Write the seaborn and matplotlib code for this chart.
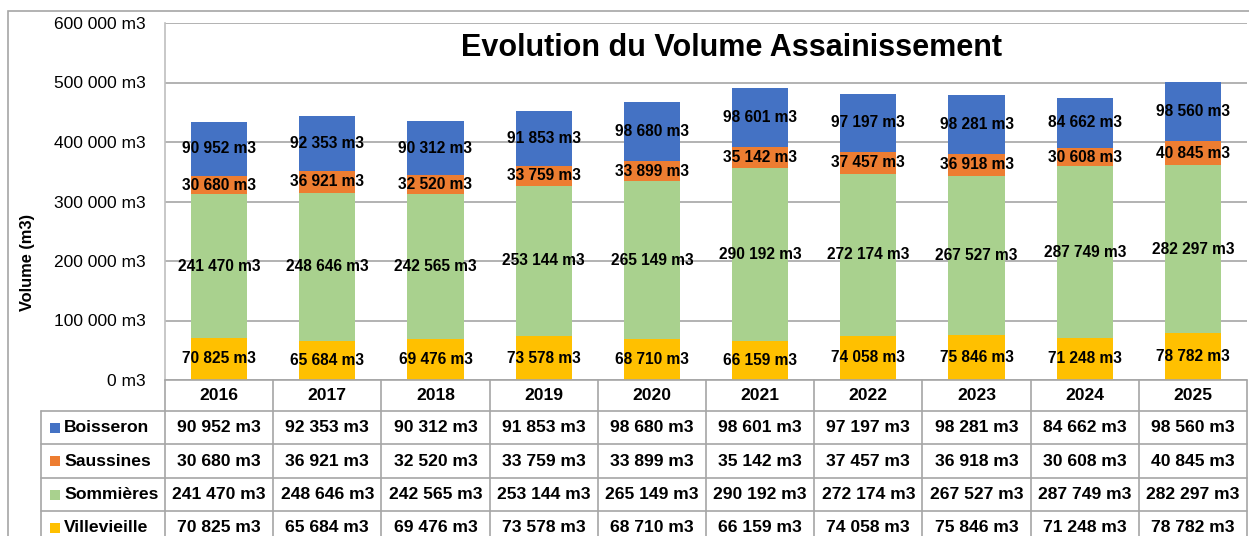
import matplotlib
matplotlib.use("Agg")
import matplotlib.pyplot as plt
from matplotlib.patches import Rectangle
import numpy as np
import pandas as pd
import seaborn as sns

# === DATA ===
years = ["2016", "2017", "2018", "2019", "2020", "2021", "2022", "2023", "2024", "2025"]
villevieille = [70825, 65684, 69476, 73578, 68710, 66159, 74058, 75846, 71248, 78782]
sommieres = [241470, 248646, 242565, 253144, 265149, 290192, 272174, 267527, 287749, 282297]
saussines = [30680, 36921, 32520, 33759, 33899, 35142, 37457, 36918, 30608, 40845]
boisseron = [90952, 92353, 90312, 91853, 98680, 98601, 97197, 98281, 84662, 98560]

# stack order bottom -> top
series_names = ["Villevieille", "Sommières", "Saussines", "Boisseron"]
series_values = [villevieille, sommieres, saussines, boisseron]
series_colors = ["#FFC000", "#A9D18E", "#ED7D31", "#4472C4"]
y_ticks = [0, 100000, 200000, 300000, 400000, 500000, 600000]

title = "Evolution du Volume Assainissement"
y_label = "Volume (m3)"


def fmt(v):
    return f"{v:,}".replace(",", " ") + " m3"


# === STYLE ===
sns.set_style("white")
plt.rcParams["font.family"] = ["Liberation Sans", "DejaVu Sans"]
plt.rcParams["text.color"] = "black"
plt.rcParams["ytick.color"] = "black"
plt.rcParams["axes.labelcolor"] = "black"

W, H = 1249, 536
fig = plt.figure(figsize=(W / 100, H / 100), dpi=100)

# outer chart border
fig.add_artist(Rectangle((8 / W, -0.1), 1.2, (H - 11) / H + 0.1, transform=fig.transFigure,
                         fill=False, edgecolor="#A6A6A6", lw=1.2))

ax = fig.add_axes([165 / W, 156 / H, 1082 / W, 357 / H])

# === STACKED BARS (cumulative, drawn from top series down) ===
df = pd.DataFrame({"Année": years})
cum = np.zeros(len(years))
cums = []
for vals in series_values:
    cum = cum + np.array(vals)
    cums.append(cum.copy())

for name, total, color in reversed(list(zip(series_names, cums, series_colors))):
    df["total"] = total
    sns.barplot(data=df, x="Année", y="total", color=color, width=0.52,
                saturation=1, edgecolor="none", ax=ax, zorder=2)

# data labels, centered in each segment
bottom = np.zeros(len(years))
for vals in series_values:
    for i, v in enumerate(vals):
        ax.text(i, bottom[i] + v / 2, fmt(v), ha="center", va="center",
                fontsize=11.2, fontweight="bold", color="black", zorder=3)
    bottom = bottom + np.array(vals)

ax.set_xlim(-0.5, len(years) - 0.5)
ax.set_ylim(0, 600000)
ax.set_yticks(y_ticks)
ax.set_yticklabels([fmt(v) for v in y_ticks], fontsize=12.5)
ax.tick_params(axis="y", length=0, pad=14, labelcolor="black")
ax.set_xticks([])
ax.set_xlabel("")
ax.set_ylabel("")
ax.yaxis.grid(True, color="#A6A6A6", lw=1.2, zorder=0)
ax.set_axisbelow(True)
for s in ["top", "right", "bottom"]:
    ax.spines[s].set_visible(False)
ax.spines["left"].set_color("#BFBFBF")
ax.spines["left"].set_linewidth(1.2)

ax.text(0.5236, 0.93, title, transform=ax.transAxes, ha="center", va="center",
        fontsize=22, fontweight="bold", color="black")

fig.text(28 / W, (H - 262) / H, y_label, rotation=90, ha="center", va="center",
         fontsize=11.8, fontweight="bold", color="black")

# === DATA TABLE ===
axt = fig.add_axes([165 / W, 0, 1082 / W, 156 / H])
axt.set_xlim(-0.5, len(years) - 0.5)
axt.set_ylim(156, 0)
axt.axis("off")

line_kw = dict(color="#A6A6A6", lw=1.2, clip_on=False)
row_edges = [0, 31, 64, 98, 131, 165]
left_col = -0.5 - 124 / 108.2
n = len(years)

# horizontal lines
axt.plot([-0.5, n - 0.5], [0, 0], **line_kw)
for yv in row_edges[1:]:
    axt.plot([left_col, n - 0.5], [yv, yv], **line_kw)
# vertical lines
for k in range(n + 1):
    axt.plot([k - 0.5, k - 0.5], [0, 170], **line_kw)
axt.plot([left_col, left_col], [row_edges[1], 170], **line_kw)

# header
for i, yr in enumerate(years):
    axt.text(i, (row_edges[0] + row_edges[1]) / 2, yr, ha="center", va="center",
             fontsize=12.6, fontweight="bold", color="black")

# rows: top -> bottom is Boisseron ... Villevieille
table_rows = list(zip(series_names, series_values, series_colors))[::-1]
for r, (name, vals, color) in enumerate(table_rows):
    yc = (row_edges[r + 1] + row_edges[r + 2]) / 2
    axt.add_patch(Rectangle((left_col + 9 / 108.2, yc - 5), 10 / 108.2, 10,
                            facecolor=color, edgecolor="none", clip_on=False))
    axt.text(left_col + 23 / 108.2, yc, name, ha="left", va="center",
             fontsize=12.6, fontweight="bold", color="black", clip_on=False)
    for i, v in enumerate(vals):
        axt.text(i, yc, fmt(v), ha="center", va="center", fontsize=12.6,
                 fontweight="bold", color="black")

fig.savefig("out.png", dpi=100)
